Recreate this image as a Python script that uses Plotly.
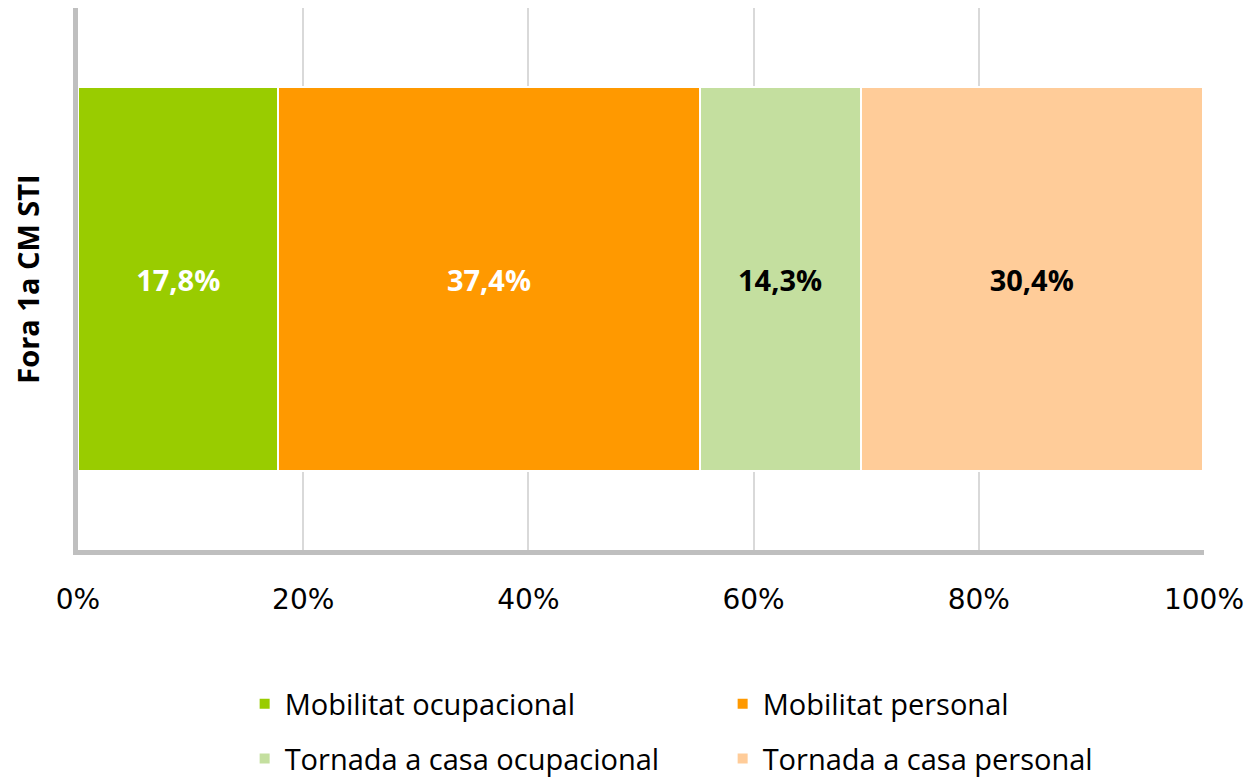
import plotly.graph_objects as go

category = ["Fora 1a CM STI"]
series_names = ["Mobilitat ocupacional", "Mobilitat personal",
                "Tornada a casa ocupacional", "Tornada a casa personal"]
series_values = [17.8, 37.4, 14.3, 30.4]
series_colors = ["#99cc00", "#ff9900", "#c4df9f", "#ffcc99"]
label_colors = ["white", "white", "black", "black"]
legend_ids = ["legend", "legend", "legend2", "legend2"]
x_ticks = [0, 20, 40, 60, 80, 100]
x_tick_labels = ["0%", "20%", "40%", "60%", "80%", "100%"]

fig = go.Figure()

for name, val, col, lcol, lg in zip(series_names, series_values, series_colors,
                                    label_colors, legend_ids):
    fig.add_trace(go.Bar(
        y=category,
        x=[val],
        name=name,
        orientation="h",
        marker=dict(color=col, line=dict(color="white", width=2)),
        text=[f"{val:.1f}%".replace(".", ",")],
        textposition="inside",
        insidetextanchor="middle",
        textangle=0,
        textfont=dict(family="Open Sans", size=29, color=lcol, weight="bold"),
        legend=lg,
    ))

# page body has an 8px margin, so the figure is sized/placed to compensate
legend_font = dict(family="Open Sans", size=29, color="black")
fig.update_layout(
    barmode="stack",
    bargap=0.29,
    width=1244,
    height=773,
    margin=dict(l=70, r=48, t=0, b=231, autoexpand=False),
    plot_bgcolor="white",
    paper_bgcolor="white",
    legend=dict(orientation="h", traceorder="normal", x=0.148, xanchor="left",
                yref="container", y=0.0996, yanchor="middle",
                entrywidth=433, font=legend_font, bgcolor="rgba(0,0,0,0)"),
    legend2=dict(orientation="h", traceorder="normal", x=0.148, xanchor="left",
                 yref="container", y=0.029, yanchor="middle",
                 entrywidth=433, font=legend_font, bgcolor="rgba(0,0,0,0)"),
)

fig.update_xaxes(
    range=[0, 100],
    tickvals=x_ticks,
    ticktext=x_tick_labels,
    tickfont=dict(family="DejaVu Sans", size=28, color="black"),
    showgrid=True,
    gridcolor="#d9d9d9",
    gridwidth=2,
    showline=True,
    linecolor="#bfbfbf",
    linewidth=5,
    ticks="",
    ticklabelstandoff=20,
    zeroline=False,
)

fig.update_yaxes(
    showticklabels=False,
    title=dict(text="<b>Fora 1a CM STI</b>", standoff=30,
               font=dict(family="Open Sans", size=29, color="black")),
    showline=True,
    linecolor="#bfbfbf",
    linewidth=5,
    showgrid=False,
    ticks="",
)

fig.write_html("out.html")
